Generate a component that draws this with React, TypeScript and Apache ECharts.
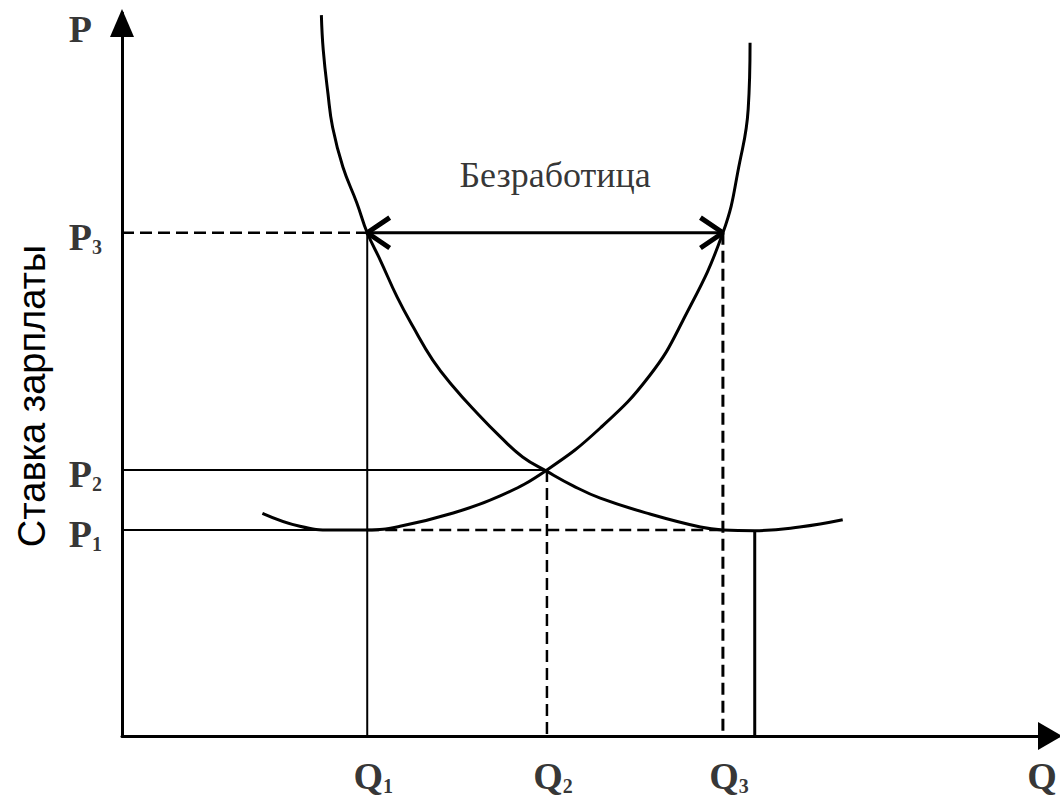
import React, { useEffect, useRef } from "react";
import * as echarts from "echarts";

// Key levels (axis units 0..100)
const Q_LEVELS = { q1: 26.2, q2: 45.4, q3: 64.2, q4: 67.6 };
const P_LEVELS = { p1: 28.5, p2: 36.8, p3: 69.6 };

// Demand curve (labour demand) points [Q, P]
const demandCurve: number[][] = [
  [21.3, 99.7], [21.5, 94.9], [22.0, 88.9], [22.5, 84.2], [23.6, 78.7],
  [25.1, 73.7], [26.2, 69.6], [27.6, 65.8], [29.4, 60.7], [31.1, 56.6],
  [33.2, 52.0], [35.4, 48.3], [37.9, 44.7], [40.4, 41.4], [42.8, 38.6],
  [45.4, 36.6], [48.2, 34.6], [51.1, 32.9], [56.4, 30.7], [61.8, 28.9], [64.2, 28.5],
  [67.6, 28.4], [72.4, 28.9], [77.0, 29.9],
];

// Supply curve (labour supply) points [Q, P]
const supplyCurve: number[][] = [
  [15.0, 30.8], [19.0, 29.0], [22.5, 28.5], [26.2, 28.5], [29.7, 29.0],
  [35.0, 30.7], [40.4, 33.2], [45.4, 36.8], [51.1, 42.6], [56.4, 49.9],
  [59.9, 57.4], [64.2, 69.6], [66.0, 79.4], [66.9, 86.7], [67.1, 95.9],
];

const xTickLabels = ["1", "2", "3"];
const yTickLabels = ["1", "2", "3"];
const AXIS_MAX = 100;
const ARROW_DX = 2.4;
const ARROW_DY = 2.1;

const TITLE_Y = "Ставка зарплаты";
const GAP_LABEL = "Безработица";

export default function App() {
  const ref = useRef<HTMLDivElement>(null);

  useEffect(() => {
    if (!ref.current) return;
    const chart = echarts.init(ref.current, null, { renderer: "svg" });
    const { q1, q2, q3, q4 } = Q_LEVELS;
    const { p1, p2, p3 } = P_LEVELS;
    const black = "#000";
    const serif = "'Liberation Serif', 'Times New Roman', serif";
    const dash = [12, 6];

    const seg = (data: number[][], type: any, width = 2, z = 2) => ({
      type: "line",
      data,
      symbol: "none",
      silent: true,
      z,
      lineStyle: { color: black, width, type },
    });

    const rich = {
      m: { fontFamily: serif, fontSize: 38, fontWeight: "bold", color: black, lineHeight: 40 },
      s: {
        fontFamily: serif, fontSize: 20, fontWeight: "bold", color: black,
        lineHeight: 40, verticalAlign: "bottom", padding: [20, 0, 0, 0],
      },
    };

    const yLabelData = [
      [0, p1, yTickLabels[0]],
      [0, p2, yTickLabels[1]],
      [0, p3, yTickLabels[2]],
    ];
    const xLabelData = [
      [q1, 0, xTickLabels[0]],
      [q2, 0, xTickLabels[1]],
      [q3, 0, xTickLabels[2]],
    ];

    chart.setOption({
      animation: false,
      grid: { left: 122, right: 2, top: 13, bottom: 65 },
      xAxis: {
        type: "value", min: 0, max: AXIS_MAX,
        axisLine: {
          lineStyle: { color: black, width: 3 },
          symbol: ["none", "triangle"], symbolSize: [28, 24], symbolOffset: [0, -8],
        },
        axisTick: { show: false }, axisLabel: { show: false }, splitLine: { show: false },
      },
      yAxis: {
        type: "value", min: 0, max: AXIS_MAX,
        axisLine: {
          lineStyle: { color: black, width: 3 },
          symbol: ["none", "triangle"], symbolSize: [24, 28], symbolOffset: [0, -10],
        },
        axisTick: { show: false }, axisLabel: { show: false }, splitLine: { show: false },
      },
      graphic: [
        {
          type: "text", x: 32, y: 396, rotation: Math.PI / 2,
          style: {
            text: TITLE_Y, fill: black,
            font: "38px 'Liberation Sans', Arial, sans-serif",
            textAlign: "center", textVerticalAlign: "middle",
          },
        },
      ],
      series: [
        // guide lines
        seg([[0, p3], [q1, p3]], dash, 2.5),
        seg([[q1, p3], [q1, 0]], "solid", 2),
        seg([[0, p2], [q2, p2]], "solid", 2),
        seg([[q2, p2], [q2, 0]], dash, 2.5),
        seg([[0, p1], [q1, p1]], "solid", 2),
        seg([[q1, p1], [q3, p1]], dash, 2.5),
        seg([[q3, p3], [q3, 0]], dash, 3),
        seg([[q4, p1], [q4, 0]], "solid", 3),
        // unemployment double arrow
        seg([[q1, p3], [q3, p3]], "solid", 3),
        seg([[q1 + ARROW_DX, p3 + ARROW_DY], [q1, p3], [q1 + ARROW_DX, p3 - ARROW_DY]], "solid", 5),
        seg([[q3 - ARROW_DX, p3 + ARROW_DY], [q3, p3], [q3 - ARROW_DX, p3 - ARROW_DY]], "solid", 5),
        // curves
        { ...seg(demandCurve, "solid", 3, 5), smooth: 0.45 },
        { ...seg(supplyCurve, "solid", 3, 5), smooth: 0.45 },
        // gap label
        {
          type: "scatter", symbolSize: 0, silent: true,
          data: [[(q1 + q3) / 2, p3]],
          label: {
            show: true, position: "top", distance: 40, offset: [10, 0],
            formatter: GAP_LABEL, fontFamily: serif, fontSize: 36, color: black,
          },
        },
        // P labels
        {
          type: "scatter", symbolSize: 0, silent: true,
          data: yLabelData,
          label: {
            show: true, position: "left", distance: 20, offset: [0, 4],
            formatter: (p: any) => `{m|P}{s|${p.value[2]}}`, rich,
          },
        },
        // Q labels
        {
          type: "scatter", symbolSize: 0, silent: true,
          data: xLabelData,
          label: {
            show: true, position: "bottom", distance: 20, offset: [6, 0],
            formatter: (p: any) => `{m|Q}{s|${p.value[2]}}`, rich,
          },
        },
        // axis end labels
        {
          type: "scatter", symbolSize: 0, silent: true,
          data: [[0, AXIS_MAX]],
          label: {
            show: true, position: "left", distance: 30, offset: [0, 16],
            formatter: "{m|P}", rich,
          },
        },
        {
          type: "scatter", symbolSize: 0, silent: true,
          data: [[AXIS_MAX, 0]],
          label: {
            show: true, position: "bottom", distance: 20, offset: [-16, 0],
            formatter: "{m|Q}", rich,
          },
        },
      ],
    });
    return () => chart.dispose();
  }, []);

  return (
    <div
      ref={ref}
      style={{ position: "fixed", left: 0, top: 0, width: 1060, height: 801, background: "#fff" }}
    />
  );
}
